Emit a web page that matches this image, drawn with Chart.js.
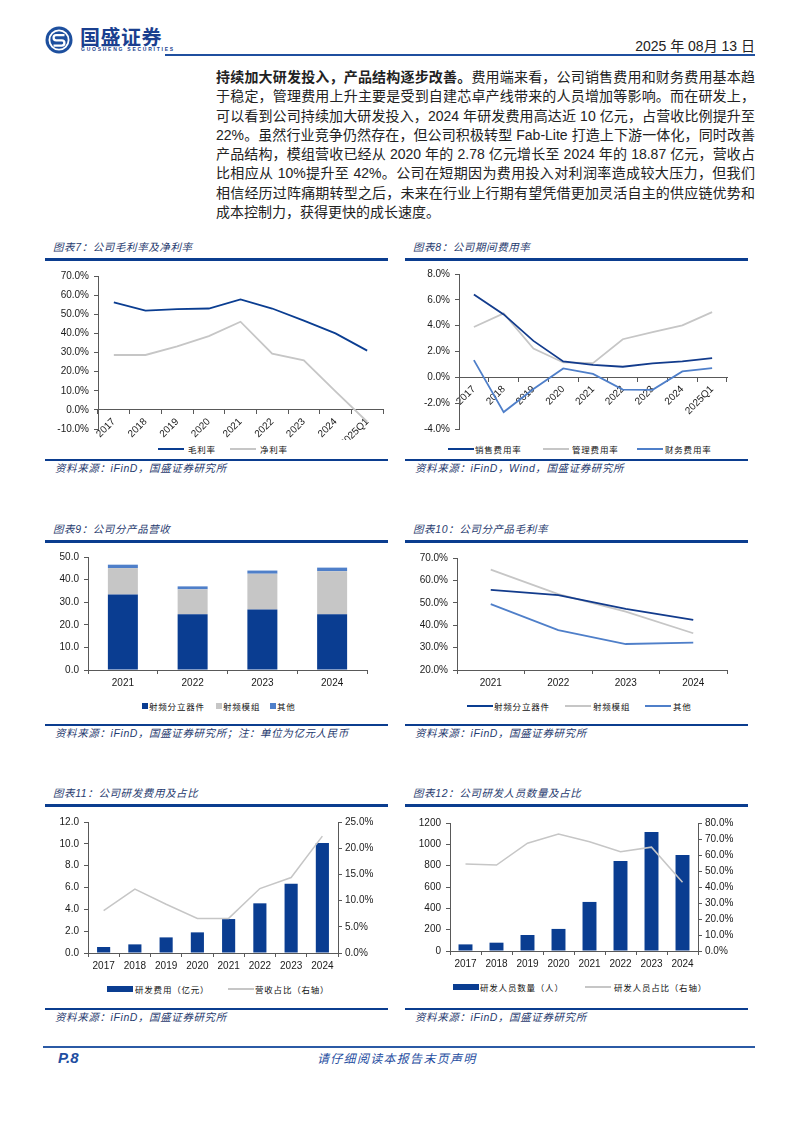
<!DOCTYPE html>
<html lang="zh-CN">
<head>
<meta charset="utf-8">
<title>国盛证券 P.8</title>
<script src="https://cdn.jsdelivr.net/npm/chart.js@4.4.1/dist/chart.umd.min.js"></script>
<style>
  html, body { margin: 0; padding: 0; background: #fff; }
  #page { position: relative; width: 794px; height: 1123px; overflow: hidden;
          font-family: "Liberation Sans", "Noto Sans CJK SC", sans-serif; color: #222; }
  .regle { position: absolute; background: #0b3d8f; }
  .titre, .source { position: absolute; font-size: 10.5px; font-style: italic; color: #1f3a6e;
                    letter-spacing: 0.6px; white-space: nowrap; line-height: 14px; }
  .leg { position: absolute; font-size: 8.5px; letter-spacing: 0.8px; white-space: nowrap;
         line-height: 12px; color: #111; font-family: "Noto Sans CJK SC", sans-serif; }
  .pastille { position: absolute; }
  canvas { position: absolute; }
  #texte { position: absolute; left: 216px; top: 68px; width: 539px; font-size: 14px; line-height: 19.3px; color: #222; }
  #texte div { text-align: justify; text-align-last: justify; white-space: nowrap; }
  #texte div:last-child { text-align-last: left; }
</style>
</head>
<body>
<div id="page">
  <!-- En-tête -->
  <svg style="position:absolute;left:45px;top:26px" width="28" height="28" viewBox="0 0 28 28">
    <circle cx="14" cy="14" r="13.5" fill="#1d4f9e"/>
    <circle cx="14" cy="14" r="9.6" fill="none" stroke="#fff" stroke-width="1.8"/>
    <path d="M19.5 9.2 H11.2 a2.6 2.6 0 0 0 0 5.2 H16.8 a2.6 2.6 0 0 1 0 5.2 H8.5" stroke="#fff" stroke-width="2.3" fill="none"/>
  </svg>
  <div style="position:absolute;left:80px;top:24px;font-size:20px;font-weight:bold;color:#1a3f8f;letter-spacing:0.5px;font-family:'Noto Sans CJK SC';line-height:26px">国盛证券</div>
  <div style="position:absolute;left:81px;top:46px;font-size:5px;letter-spacing:1.75px;color:#1a3f8f;line-height:6px;font-weight:bold">GUOSHENG SECURITIES</div>
  <div style="position:absolute;right:39px;top:37px;font-size:14px;line-height:18px;color:#222">2025 年 08月 13 日</div>
  <div class="regle" style="left:165px;top:54px;width:590px;height:1.5px;background:#1f4f9f"></div>

  <div id="texte">
    <div><b>持续加大研发投入，产品结构逐步改善。</b>费用端来看，公司销售费用和财务费用基本趋</div>
    <div>于稳定，管理费用上升主要是受到自建芯卓产线带来的人员增加等影响。而在研发上，</div>
    <div>可以看到公司持续加大研发投入，2024 年研发费用高达近 10 亿元，占营收比例提升至</div>
    <div>22%。虽然行业竞争仍然存在，但公司积极转型 Fab-Lite 打造上下游一体化，同时改善</div>
    <div>产品结构，模组营收已经从 2020 年的 2.78 亿元增长至 2024 年的 18.87 亿元，营收占</div>
    <div>比相应从 10%提升至 42%。公司在短期因为费用投入对利润率造成较大压力，但我们</div>
    <div>相信经历过阵痛期转型之后，未来在行业上行期有望凭借更加灵活自主的供应链优势和</div>
    <div>成本控制力，获得更快的成长速度。</div>
  </div>

  <canvas id="g7" width="341" height="176" style="left:47px;top:264px"></canvas>
  <canvas id="g8" width="343" height="178" style="left:405px;top:262px"></canvas>
  <canvas id="g9" width="343" height="146" style="left:45px;top:546px"></canvas>
  <canvas id="g10" width="343" height="146" style="left:405px;top:546px"></canvas>
  <canvas id="g11" width="343" height="166" style="left:45px;top:810px"></canvas>
  <canvas id="g12" width="343" height="166" style="left:405px;top:810px"></canvas>

  <!-- Pied de page -->
  <div class="regle" style="left:43px;top:1046px;width:712px;height:2px;background:#2b5aa5"></div>
  <div style="position:absolute;left:58px;top:1049px;font-size:15px;font-weight:bold;font-style:italic;color:#1f4ea1;line-height:18px">P.8</div>
  <div style="position:absolute;left:317px;top:1050px;font-size:12px;font-style:italic;letter-spacing:1.3px;color:#1f4ea1;line-height:16px;font-family:'Noto Sans CJK SC'">请仔细阅读本报告末页声明</div>
</div>

<script>
// Données
const years = ["2017", "2018", "2019", "2020", "2021", "2022", "2023", "2024"];
const yearsQ1 = ["2017", "2018", "2019", "2020", "2021", "2022", "2023", "2024", "2025Q1"];
const years4 = ["2021", "2022", "2023", "2024"];

// 图表7
const grossMargin = [56.2, 51.9, 52.7, 53.0, 57.8, 53.0, 46.7, 40.0, 31.0];
const netMargin = [28.7, 28.7, 33.2, 38.6, 46.1, 29.4, 25.9, 9.7, -6.2];
// 图表8
const sellingRate = [6.41, 4.87, 2.82, 1.23, 0.97, 0.82, 1.08, 1.23, 1.49];
const adminRate = [3.9, 4.95, 2.23, 1.15, 1.1, 2.95, 3.5, 4.03, 5.05];
const financeRate = [1.33, -2.69, -0.9, 0.69, 0.26, -0.95, -0.97, 0.46, 0.72];
// 图表9 (亿元)
const discreteRev = [33.4, 24.7, 26.8, 24.7];
const moduleRev = [11.7, 11.0, 15.8, 19.0];
const otherRev = [1.5, 1.3, 1.4, 1.6];
// 图表10
const discreteMargin = [55.8, 53.4, 47.3, 42.4];
const moduleMargin = [64.8, 53.9, 46.1, 36.4];
const otherMargin = [49.4, 37.8, 31.6, 32.2];
// 图表11
const rdExpense = [0.55, 0.79, 1.43, 1.89, 3.11, 4.55, 6.35, 10.08];
const rdRatio = [8.1, 12.2, 9.3, 6.6, 6.6, 12.3, 14.4, 22.3];
// 图表12
const rdStaff = [62, 78, 150, 207, 460, 843, 1115, 899];
const rdStaffRatio = [54.3, 53.7, 67.4, 73.1, 68.3, 62.0, 64.9, 43.0];

// Couleurs
const DARK = "#0a3d91";
const MID = "#4f7fc9";
const GREY = "#c6c6c6";
const AXE = "#595959";

// Cadres des panneaux : titre, règles bleues, source
const panneaux = [
  { x: 45, haut: 259, bas: 460, titre: "图表7：公司毛利率及净利率", source: "资料来源：iFinD，国盛证券研究所" },
  { x: 405, haut: 259, bas: 460, titre: "图表8：公司期间费用率", source: "资料来源：iFinD，Wind，国盛证券研究所" },
  { x: 45, haut: 541, bas: 725, titre: "图表9：公司分产品营收", source: "资料来源：iFinD，国盛证券研究所；注：单位为亿元人民币" },
  { x: 405, haut: 541, bas: 725, titre: "图表10：公司分产品毛利率", source: "资料来源：iFinD，国盛证券研究所" },
  { x: 45, haut: 805, bas: 1009, titre: "图表11：公司研发费用及占比", source: "资料来源：iFinD，国盛证券研究所" },
  { x: 405, haut: 805, bas: 1009, titre: "图表12：公司研发人员数量及占比", source: "资料来源：iFinD，国盛证券研究所" },
];

const page = document.querySelector("#page");
function ajouter(cls, style, texte) {
  const el = document.createElement("div");
  el.className = cls;
  Object.assign(el.style, style);
  if (texte) el.textContent = texte;
  page.appendChild(el);
  return el;
}

for (const p of panneaux) {
  ajouter("titre", { left: (p.x + 8) + "px", top: (p.haut - 19) + "px" }, p.titre);
  ajouter("regle", { left: p.x + "px", top: (p.haut - 1) + "px", width: "343px", height: "2.5px" });
  ajouter("regle", { left: p.x + "px", top: (p.bas - 1) + "px", width: "343px", height: "2px" });
  ajouter("source", { left: (p.x + 10) + "px", top: (p.bas + 1) + "px" }, p.source);
}

// Légendes HTML : trait, carré ou rectangle
function legende(y, items) {
  for (const it of items) {
    let w = 26, h = 2;
    if (it.type === "carre") { w = 6; h = 6; }
    if (it.type === "rect") { w = 26; h = 6; }
    ajouter("pastille", { left: it.x + "px", top: (y - h / 2) + "px", width: w + "px", height: h + "px", background: it.couleur });
    ajouter("leg", { left: it.tx + "px", top: (y - 6.5) + "px" }, it.texte);
  }
}

legende(449, [
  { x: 158, tx: 188, type: "trait", couleur: DARK, texte: "毛利率" },
  { x: 230, tx: 260, type: "trait", couleur: GREY, texte: "净利率" },
]);
legende(449, [
  { x: 448, tx: 475, type: "trait", couleur: DARK, texte: "销售费用率" },
  { x: 543, tx: 572, type: "trait", couleur: GREY, texte: "管理费用率" },
  { x: 637, tx: 665, type: "trait", couleur: MID, texte: "财务费用率" },
]);
legende(706, [
  { x: 142, tx: 149, type: "carre", couleur: DARK, texte: "射频分立器件" },
  { x: 216, tx: 223, type: "carre", couleur: GREY, texte: "射频模组" },
  { x: 270, tx: 277, type: "carre", couleur: MID, texte: "其他" },
]);
legende(706, [
  { x: 467, tx: 494, type: "trait", couleur: DARK, texte: "射频分立器件" },
  { x: 565, tx: 593, type: "trait", couleur: GREY, texte: "射频模组" },
  { x: 645, tx: 673, type: "trait", couleur: MID, texte: "其他" },
]);
legende(989, [
  { x: 107, tx: 135, type: "rect", couleur: DARK, texte: "研发费用（亿元）" },
  { x: 228, tx: 255, type: "trait", couleur: GREY, texte: "营收占比（右轴）" },
]);
legende(987, [
  { x: 453, tx: 480, type: "rect", couleur: DARK, texte: "研发人员数量（人）" },
  { x: 585, tx: 614, type: "trait", couleur: GREY, texte: "研发人员占比（右轴）" },
]);

// Réglages communs Chart.js
Chart.defaults.font = { family: "'Liberation Sans', Arial, sans-serif", size: 10 };
Chart.defaults.color = "#1a1a1a";
Chart.defaults.animation = false;
Chart.defaults.plugins.legend.display = false;
Chart.defaults.plugins.tooltip.enabled = false;

const pct = (v) => v.toFixed(1) + "%";
const dec = (v) => v.toFixed(1);

function axeY(min, max, pas, format, largeur, position) {
  return {
    position: position || "left",
    min: min, max: max,
    ticks: { stepSize: pas, callback: format, padding: position === "right" ? 3 : 5 },
    grid: { drawOnChartArea: false, tickLength: 4, color: AXE },
    border: { color: AXE },
    afterFit: (s) => { s.width = largeur; },
  };
}
function axeX(hauteur, extra) {
  return Object.assign({
    offset: true,
    ticks: { padding: 3, autoSkip: false, maxRotation: 0 },
    grid: { offset: true, drawOnChartArea: false, tickLength: 4, color: AXE },
    border: { color: AXE },
    afterFit: (s) => { s.height = hauteur; },
  }, extra || {});
}
function ligne(label, data, couleur, extra) {
  return Object.assign({
    type: "line", label: label, data: data, borderColor: couleur, backgroundColor: couleur,
    borderWidth: 1.8, pointRadius: 0, tension: 0, fill: false,
  }, extra || {});
}
const rotation = { ticks: { padding: 2, autoSkip: false, minRotation: 45, maxRotation: 45 }, position: { y: 0 } };

// 图表7 : marges
new Chart(document.querySelector("#g7"), {
  type: "line",
  data: { labels: yearsQ1, datasets: [ligne("毛利率", grossMargin, DARK), ligne("净利率", netMargin, GREY)] },
  options: {
    responsive: false,
    layout: { padding: { top: 12, right: 5, left: 0, bottom: 0 } },
    scales: { x: axeX(28, rotation), y: axeY(-10, 70, 10, pct, 51) },
  },
});

// 图表8 : taux de charges
new Chart(document.querySelector("#g8"), {
  type: "line",
  data: {
    labels: yearsQ1,
    datasets: [ligne("销售费用率", sellingRate, "#123b8c"), ligne("管理费用率", adminRate, GREY), ligne("财务费用率", financeRate, MID)],
  },
  options: {
    responsive: false,
    layout: { padding: { top: 12, right: 21, left: 0, bottom: 0 } },
    scales: { x: axeX(10, rotation), y: axeY(-4, 8, 2, pct, 54) },
  },
});

// 图表9 : chiffre d'affaires empilé
new Chart(document.querySelector("#g9"), {
  type: "bar",
  data: {
    labels: years4,
    datasets: [
      { label: "射频分立器件", data: discreteRev, backgroundColor: DARK },
      { label: "射频模组", data: moduleRev, backgroundColor: GREY },
      { label: "其他", data: otherRev, backgroundColor: MID },
    ],
  },
  options: {
    responsive: false,
    barPercentage: 0.43, categoryPercentage: 1,
    layout: { padding: { top: 11, right: 21, left: 0, bottom: 0 } },
    scales: { x: axeX(22, { stacked: true }), y: Object.assign(axeY(0, 50, 10, dec, 43), { stacked: true }) },
  },
});

// 图表10 : marges par produit
new Chart(document.querySelector("#g10"), {
  type: "line",
  data: {
    labels: years4,
    datasets: [ligne("射频分立器件", discreteMargin, "#123b8c"), ligne("射频模组", moduleMargin, GREY), ligne("其他", otherMargin, MID)],
  },
  options: {
    responsive: false,
    layout: { padding: { top: 12, right: 21, left: 0, bottom: 0 } },
    scales: { x: axeX(22), y: axeY(20, 70, 10, pct, 52) },
  },
});

// 图表11 : dépenses R&D + part du CA (axe droit)
new Chart(document.querySelector("#g11"), {
  type: "bar",
  data: {
    labels: years,
    datasets: [
      ligne("营收占比（右轴）", rdRatio, GREY, { yAxisID: "y1", order: 0, borderWidth: 1.5 }),
      { type: "bar", label: "研发费用（亿元）", data: rdExpense, backgroundColor: DARK, yAxisID: "y", order: 1 },
    ],
  },
  options: {
    responsive: false,
    barPercentage: 0.42, categoryPercentage: 1,
    layout: { padding: { top: 12, right: 0, left: 0, bottom: 0 } },
    scales: {
      x: axeX(23),
      y: axeY(0, 12, 2, dec, 43),
      y1: axeY(0, 25, 5, pct, 50, "right"),
    },
  },
});

// 图表12 : effectifs R&D + part (axe droit)
new Chart(document.querySelector("#g12"), {
  type: "bar",
  data: {
    labels: years,
    datasets: [
      ligne("研发人员占比（右轴）", rdStaffRatio, GREY, { yAxisID: "y1", order: 0, borderWidth: 1.5 }),
      { type: "bar", label: "研发人员数量（人）", data: rdStaff, backgroundColor: DARK, yAxisID: "y", order: 1 },
    ],
  },
  options: {
    responsive: false,
    barPercentage: 0.45, categoryPercentage: 1,
    layout: { padding: { top: 13, right: 0, left: 0, bottom: 0 } },
    scales: {
      x: axeX(25),
      y: axeY(0, 1200, 200, (v) => String(v), 45),
      y1: axeY(0, 80, 10, pct, 50, "right"),
    },
  },
});
</script>
</body>
</html>
